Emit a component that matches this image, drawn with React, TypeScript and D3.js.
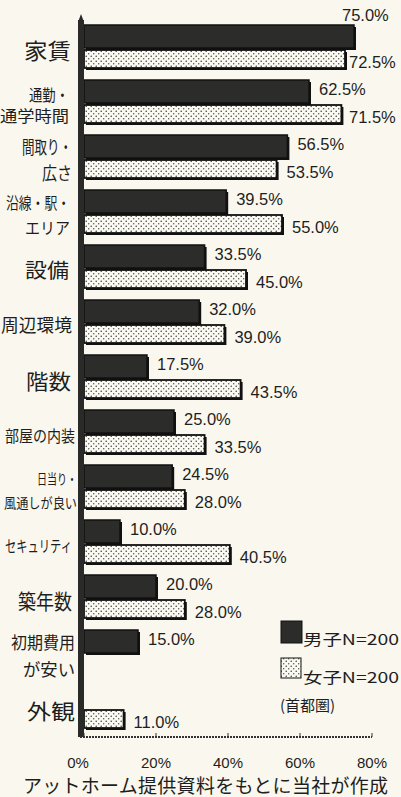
import React from "react";
import * as d3 from "d3";

const categories = ["家賃", "通勤・通学時間", "間取り・広さ", "沿線・駅・エリア", "設備", "周辺環境", "階数", "部屋の内装", "日当り・風通しが良い", "セキュリティ", "築年数", "初期費用が安い", "外観"];
const labelLines: string[][] = [["家賃"], ["通勤・", "通学時間"], ["間取り・", "広さ"], ["沿線・駅・", "エリア"], ["設備"], ["周辺環境"], ["階数"], ["部屋の内装"], ["日当り・", "風通しが良い"], ["セキュリティ"], ["築年数"], ["初期費用", "が安い"], ["外観"]];
const maleValues: (number | null)[] = [75.0, 62.5, 56.5, 39.5, 33.5, 32.0, 17.5, 25.0, 24.5, 10.0, 20.0, 15.0, null];
const femaleValues: (number | null)[] = [72.5, 71.5, 53.5, 55.0, 45.0, 39.0, 43.5, 33.5, 28.0, 40.5, 28.0, null, 11.0];
const xTicks = [0, 20, 40, 60, 80];
const legendLabels = ["男子N=200", "女子N=200", "(首都圏)"];
const caption = "アットホーム提供資料をもとに当社が作成";

// label styling (font size, line height, per-line widths)
const labelSizes = [22, 16, 18, 16, 20, 18, 21, 16, 14, 16, 21, 17, 21];
const labelLineH = [0, 21, 26, 25, 0, 0, 0, 0, 24, 0, 0, 27, 0];
const labelWidths: number[][] = [[47], [40, 69], [50, 30], [64, 45], [44], [71], [45], [70], [40, 73], [67], [54], [64, 52], [48]];
const labelRight = [71, 69, 72, 70, 69, 72, 71, 75, 77, 72, 72, 75, 75];

const W = 401, H = 797;
const BG = "#faf8ee";
const INK = "#1e1e1e";
const JP = "'Noto Sans CJK JP', 'Noto Sans', sans-serif";
const NUM = "'Liberation Sans', 'DejaVu Sans', sans-serif";

export default function App() {
  const x = d3.scaleLinear().domain([0, 80]).range([84, 372]);
  const y = d3.scaleBand<string>().domain(categories).range([20, 735]).paddingInner(0).paddingOuter(0);
  const maleOff = 5, maleH = 23, femOff = 30, femH = 18;
  const fmt = (v: number) => v.toFixed(1) + "%";

  return (
    <svg width={W} height={H} viewBox={`0 0 ${W} ${H}`} style={{ position: "absolute", left: 0, top: 0, background: BG }}>
      <defs>
        <pattern id="dots" width="5" height="5" patternUnits="userSpaceOnUse">
          <rect width="5" height="5" fill="#fbfaf2" />
          <circle cx="1.2" cy="1.2" r="0.75" fill="#333" />
          <circle cx="3.7" cy="3.7" r="0.75" fill="#555" />
        </pattern>
      </defs>
      <rect x={0} y={0} width={W} height={H} fill={BG} />

      {/* bars */}
      {categories.map((c, i) => {
        const b = y(c)!;
        const m = maleValues[i];
        const f = femaleValues[i];
        return (
          <g key={c}>
            {m != null && (
              <g>
                <rect x={x(0) + 2} y={b + maleOff + 2} width={x(m) - x(0)} height={maleH} fill="#111" />
                <rect x={x(0)} y={b + maleOff} width={x(m) - x(0)} height={maleH} fill="#2c2c2a" stroke="#111" strokeWidth={1.5} />
              </g>
            )}
            {f != null && (
              <g>
                <rect x={x(0) + 2} y={b + femOff + 2} width={x(f) - x(0)} height={femH} fill="#111" />
                <rect x={x(0)} y={b + femOff} width={x(f) - x(0)} height={femH} fill="url(#dots)" stroke="#111" strokeWidth={1.8} />
              </g>
            )}
          </g>
        );
      })}

      {/* value labels */}
      {categories.map((c, i) => {
        const b = y(c)!;
        const m = maleValues[i];
        const f = femaleValues[i];
        const out: JSX.Element[] = [];
        if (m != null) {
          let lx = x(m) + 10;
          let ly = b + maleOff + 15;
          if (lx + 48 > W) { lx = x(m) - 12; ly = b + maleOff - 4; }
          out.push(<text key="m" x={lx} y={ly} fontSize={16.5} fontFamily={NUM} fill={INK}>{fmt(m)}</text>);
        }
        if (f != null) {
          const lx = Math.min(x(f) + 10, W - 52);
          out.push(<text key="f" x={lx} y={b + femOff + femH} fontSize={16.5} fontFamily={NUM} fill={INK}>{fmt(f)}</text>);
        }
        return <g key={c}>{out}</g>;
      })}

      {/* category labels */}
      {categories.map((c, i) => {
        const b = y(c)!;
        const lines = labelLines[i];
        const fs = labelSizes[i];
        const mid = b + 31;
        const lh = labelLineH[i];
        const startY = mid - ((lines.length - 1) * lh) / 2 + fs * 0.36;
        return (
          <g key={c}>
            {lines.map((ln, j) => (
              <text key={j} x={labelRight[i]} y={startY + j * lh} textAnchor="end" fontSize={fs} fontFamily={JP} fill={INK}
                textLength={labelWidths[i][j]} lengthAdjust="spacingAndGlyphs">{ln}</text>
            ))}
          </g>
        );
      })}

      {/* axes */}
      <rect x={78} y={20} width={6} height={717} fill="#2a2a28" />
      <path d="M78,22 L81,14 L84,22 Z" fill="#2a2a28" />
      <line x1={80} x2={x(80)} y1={737} y2={737} stroke="#333" strokeWidth={2} strokeDasharray="2 1" />
      {xTicks.map((t) => (
        <g key={t}>
          <line x1={x(t)} x2={x(t)} y1={733} y2={737} stroke="#333" strokeWidth={1} />
          <text x={x(t) - (t === 0 ? 6 : 0)} y={768} textAnchor="middle" fontSize={15} fontFamily={NUM} fill={INK}>{t}%</text>
        </g>
      ))}

      {/* legend */}
      <rect x={281} y={621} width={21} height={22} fill="#2c2c2a" stroke="#111" />
      <text x={303} y={645} fontSize={15} fontFamily={JP} fill={INK} textLength={96} lengthAdjust="spacingAndGlyphs">{legendLabels[0]}</text>
      <rect x={281} y={658} width={20} height={20} fill="url(#dots)" stroke="#111" />
      <text x={303} y={683} fontSize={15} fontFamily={JP} fill={INK} textLength={96} lengthAdjust="spacingAndGlyphs">{legendLabels[1]}</text>
      <text x={280} y={711} fontSize={15} fontFamily={JP} fill={INK}>{legendLabels[2]}</text>

      {/* caption */}
      <text x={23} y={793} fontSize={19} fontFamily={JP} fill={INK} textLength={365} lengthAdjust="spacing">{caption}</text>
    </svg>
  );
}
